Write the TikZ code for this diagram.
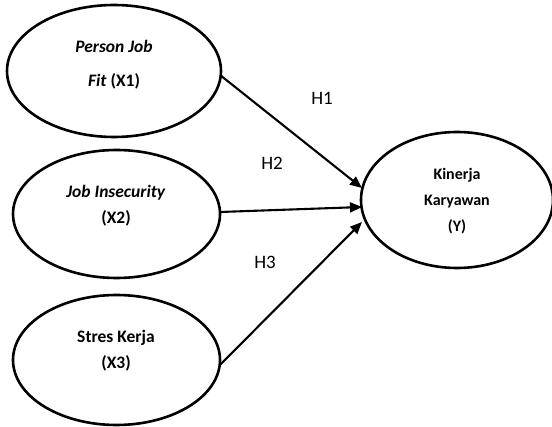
\documentclass[tikz,border=0pt]{standalone}
\usepackage{fontspec}
\setmainfont{Carlito}
\usetikzlibrary{shapes.geometric,arrows.meta}
\begin{document}
\begin{tikzpicture}[x=1pt,y=-1pt,
  var/.style={draw=black,line width=2.6pt,ellipse,inner sep=0pt},
  vtext/.style={font=\fontsize{17.5}{26}\selectfont\bfseries,align=center,inner sep=0pt},
  ytext/.style={font=\fontsize{16}{26}\selectfont\bfseries,align=center,inner sep=0pt},
  hlab/.style={font=\fontsize{19}{20}\selectfont,inner sep=0pt},
  conn/.style={line width=2.1pt,-{Triangle[length=12pt,width=10pt]}}]
\useasboundingbox (0,0) rectangle (552,427);
\node[var,minimum width=214pt,minimum height=132pt] (x1) at (114,71) {};
\node[var,minimum width=207pt,minimum height=128pt] (x2) at (116.5,214) {};
\node[var,minimum width=207pt,minimum height=130pt] (x3) at (116.5,360) {};
\node[var,minimum width=192pt,minimum height=136pt] (y) at (457,200) {};
\node[vtext,font=\fontsize{17.5}{34}\selectfont\bfseries] (t1) at (114,65) {\textit{Person Job}\\\textit{Fit} (X1)};
\node[vtext] (t2) at (116,206) {\textit{Job Insecurity}\\(X2)};
\node[vtext] (t3) at (116,351) {Stres Kerja\\(X3)};
\node[ytext] (t4) at (457,201) {Kinerja\\Karyawan\\(Y)};
\coordinate (e1) at (362,188);
\coordinate (e2) at (362,207);
\coordinate (e3) at (362,222);
\coordinate (s1) at (220,75);
\coordinate (s2) at (220,212);
\coordinate (s3) at (220,365);
\draw[conn] (s1) -- (e1);
\draw[conn] (s2) -- (e2);
\draw[conn] (s3) -- (e3);
\node[hlab] (h1) at (322,98) {H1};
\node[hlab] (h2) at (272,163) {H2};
\node[hlab] (h3) at (265,262) {H3};
\end{tikzpicture}
\end{document}
